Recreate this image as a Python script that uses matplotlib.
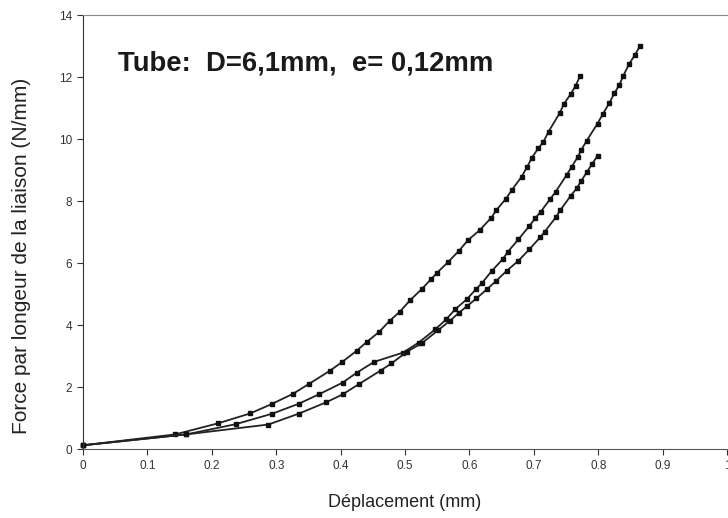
import numpy as np
import matplotlib
matplotlib.use("Agg")
import matplotlib.pyplot as plt

plt.rcParams['font.family'] = ['Liberation Sans', 'DejaVu Sans']

# courbe 1 (la plus raide)
x1 = [0, 0.143, 0.21, 0.26, 0.294, 0.326, 0.351, 0.383, 0.402, 0.425, 0.441, 0.460,
      0.476, 0.492, 0.508, 0.526, 0.541, 0.550, 0.567, 0.584, 0.598, 0.616, 0.634,
      0.642, 0.657, 0.666, 0.681, 0.690, 0.697, 0.707, 0.715, 0.723, 0.740, 0.747,
      0.757, 0.765, 0.772]
y1 = [0.12, 0.47, 0.83, 1.15, 1.46, 1.78, 2.10, 2.52, 2.80, 3.17, 3.46, 3.78,
      4.13, 4.43, 4.80, 5.16, 5.49, 5.69, 6.03, 6.40, 6.74, 7.06, 7.46,
      7.71, 8.08, 8.36, 8.78, 9.11, 9.40, 9.70, 9.91, 10.24, 10.83, 11.14,
      11.44, 11.72, 12.04]

# courbe 2
x2 = [0, 0.16, 0.237, 0.294, 0.335, 0.367, 0.403, 0.425, 0.452, 0.497, 0.521,
      0.547, 0.564, 0.578, 0.596, 0.610, 0.619, 0.635, 0.652, 0.660, 0.676, 0.693,
      0.702, 0.711, 0.725, 0.734, 0.751, 0.759, 0.768, 0.774, 0.782, 0.799, 0.807,
      0.817, 0.825, 0.833, 0.839, 0.848, 0.857, 0.865]
y2 = [0.12, 0.47, 0.80, 1.14, 1.46, 1.77, 2.14, 2.46, 2.81, 3.11, 3.43,
      3.86, 4.18, 4.51, 4.83, 5.15, 5.34, 5.75, 6.13, 6.37, 6.76, 7.19,
      7.44, 7.66, 8.05, 8.30, 8.84, 9.11, 9.41, 9.66, 9.94, 10.50, 10.80,
      11.15, 11.47, 11.75, 12.04, 12.42, 12.71, 13.01]

# courbe 3
x3 = [0, 0.16, 0.288, 0.335, 0.378, 0.403, 0.429, 0.462, 0.479, 0.503, 0.526,
      0.552, 0.570, 0.584, 0.597, 0.611, 0.627, 0.642, 0.658, 0.676, 0.693, 0.710,
      0.717, 0.734, 0.741, 0.757, 0.767, 0.774, 0.782, 0.790, 0.799]
y3 = [0.12, 0.47, 0.79, 1.14, 1.51, 1.76, 2.10, 2.53, 2.76, 3.14, 3.41,
      3.84, 4.14, 4.40, 4.62, 4.86, 5.15, 5.43, 5.75, 6.07, 6.44, 6.83,
      7.01, 7.47, 7.70, 8.16, 8.42, 8.66, 8.92, 9.18, 9.46]

xticks = [0, 0.1, 0.2, 0.3, 0.4, 0.5, 0.6, 0.7, 0.8, 0.9, 1]
xtick_labels = ['0', '0.1', '0.2', '0.3', '0.4', '0.5', '0.6', '0.7', '0.8', '0.9', '1']
yticks = [0, 2, 4, 6, 8, 10, 12, 14]

fig = plt.figure(figsize=(7.28, 5.18), dpi=100)
ax = fig.add_axes([83/728, 1 - 449/518, 644/728, 434/518])

for xs, ys in [(x1, y1), (x2, y2), (x3, y3)]:
    ax.plot(xs, ys, color='#222222', lw=1.3, marker='s', ms=3.5,
            mfc='#111111', mec='#111111', clip_on=False)

ax.set_xlim(0, 1)
ax.set_ylim(0, 14)
ax.set_xticks(xticks)
ax.set_xticklabels(xtick_labels)
ax.set_yticks(yticks)
ax.tick_params(direction='out', length=4, width=0.8, labelsize=8.5,
               colors='#333333', pad=4)

ax.spines['right'].set_visible(False)
ax.spines['top'].set_color('#888888')
ax.spines['left'].set_color('#333333')
ax.spines['bottom'].set_color('#555555')
ax.spines['bottom'].set_linestyle((0, (4, 1)))

ax.set_xlabel('Déplacement (mm)', fontsize=13, color='#222222', labelpad=16)
ax.set_ylabel('Force par longeur de la liaison (N/mm)', fontsize=15,
              color='#222222')
ax.yaxis.set_label_coords(-0.08, 0.445)

ax.text(0.054, 12.45, 'Tube:  D=6,1mm,  e= 0,12mm', fontsize=19.8,
        fontweight='bold', color='#1a1a1a', va='center', ha='left')

fig.savefig('out.png', dpi=100)
